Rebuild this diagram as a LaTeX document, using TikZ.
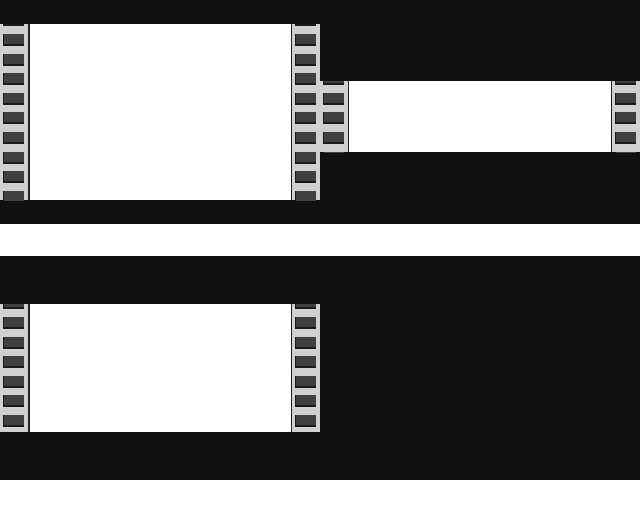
\documentclass[tikz,border=0pt]{standalone}
\definecolor{bgdark}{HTML}{111111}
\definecolor{strip}{HTML}{D0D0D0}
\definecolor{hole}{HTML}{404040}
\definecolor{holeshadow}{HTML}{1A1A1A}
\definecolor{edge}{HTML}{222222}
\tikzset{
  holeshade/.style={fill=holeshadow},
  holefill/.style={fill=hole},
  stripfill/.style={fill=strip},
  edgeline/.style={draw=edge,line width=1.5pt},
}
% \filmstrip{x0}{ytop}{ybot}{first hole y}{count}
\newcommand{\filmstripdraw}[5]{%
  \begin{scope}
    \clip (#1,#2) rectangle (#1+28,#3);
    \fill[stripfill] (#1,#2) rectangle (#1+28,#3);
    \foreach \k in {0,...,#5}{
      \pgfmathsetmacro{\yy}{#4+19.6*\k}
      \fill[holeshade] (#1+3,\yy) rectangle (#1+24,\yy+12);
      \fill[holefill] (#1+4,\yy) rectangle (#1+24,\yy+10);
    }
  \end{scope}}
\begin{document}
\begin{tikzpicture}[x=1pt,y=-1pt]
\useasboundingbox (0,0) rectangle (640,512);
\fill[white] (0,0) rectangle (640,512);
% dark panels
\fill[bgdark] (0,0) rectangle (640,224);
\fill[bgdark] (0,256) rectangle (640,480);
% film 1 (top left)
\fill[white] (28,24) rectangle (292,200);
\filmstripdraw{0}{24}{200}{14.4}{9}
\filmstripdraw{292}{24}{200}{14.4}{9}
\draw[edgeline] (28.75,24) -- (28.75,200);
\draw[edgeline] (291.25,24) -- (291.25,200);
% film 2 (top right)
\fill[white] (348,81) rectangle (612,152);
\filmstripdraw{320}{81}{152}{73.2}{4}
\filmstripdraw{612}{81}{152}{73.2}{4}
\draw[edgeline] (348.25,81) -- (348.25,152);
\draw[edgeline] (611.25,81) -- (611.25,152);
% film 3 (bottom left)
\fill[white] (28,304) rectangle (292,432);
\filmstripdraw{0}{304}{432}{297.4}{6}
\filmstripdraw{292}{304}{432}{297.4}{6}
\draw[edgeline] (28.75,304) -- (28.75,432);
\draw[edgeline] (291.25,304) -- (291.25,432);
\end{tikzpicture}
\end{document}
